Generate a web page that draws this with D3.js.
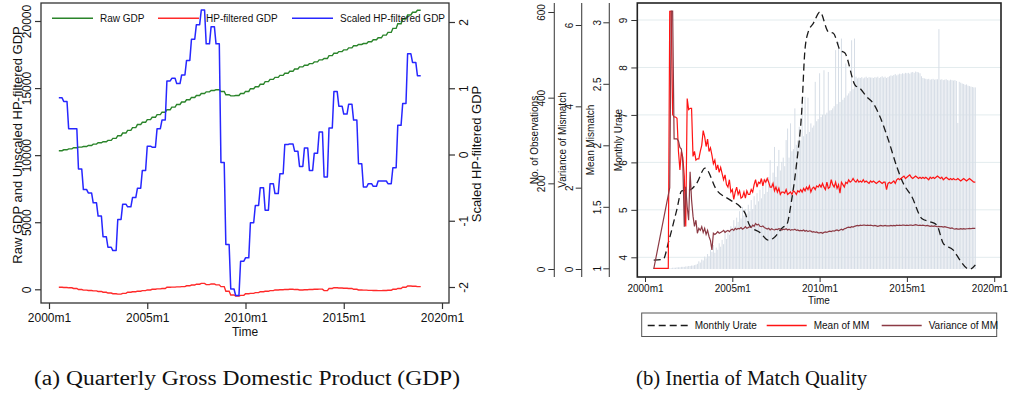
<!DOCTYPE html>
<html><head><meta charset="utf-8">
<script src="https://cdn.jsdelivr.net/npm/d3@7/dist/d3.min.js"></script>
<style>
body{margin:0;background:#fff}
svg{display:block}
text{font-family:"Liberation Sans",Arial,Helvetica,sans-serif;fill:#111}
</style>
</head><body>
<svg id="c" width="1009" height="395"></svg>
<script>
// ---------------- DATA: panel (a), quarterly, 2000q3 .. 2018q4 ----------------
const gdpFirstQuarter = 2000.5;
const rawGDP = [10330,10400,10470,10550,10600,10640,10720,10820,10920,11000,11100,11250,11450,11650,11850,12050,12280,12450,12650,12820,13020,13200,13380,13580,13780,13960,14130,14300,14450,14600,14720,14820,14880,14750,14500,14420,14450,14600,14750,14950,15100,15280,15480,15650,15800,15950,16100,16250,16420,16580,16700,16820,16950,17100,17200,17420,17600,17720,17850,18000,18150,18250,18320,18450,18600,18750,18950,19150,19450,19800,20150,20450,20650,20800];
const hpGDP = [150,130,110,60,-20,-60,-90,-120,-160,-220,-280,-330,-360,-300,-220,-180,-140,-100,-50,0,30,60,150,160,180,200,260,320,380,440,350,400,330,200,-150,-420,-500,-450,-330,-300,-250,-180,-150,-100,-50,-30,-10,0,-20,-50,-30,-10,0,10,-100,60,120,100,80,60,0,-50,-60,-80,-90,-100,-90,-70,0,60,150,250,230,200];
const scaledHP = [0.855,0.80,0.39,0.39,-0.22,-0.53,-0.58,-0.73,-0.93,-1.24,-1.40,-1.45,-0.98,-0.75,-0.79,-0.65,-0.51,-0.24,0.125,0.11,0.39,0.52,1.11,1.15,1.07,1.20,1.42,1.74,1.96,2.18,1.67,1.93,1.67,-0.12,-1.36,-2.03,-2.13,-1.61,-1.56,-1.03,-0.77,-0.50,-0.84,-0.44,-0.59,-0.29,0.15,0.16,0.05,-0.18,0.10,-0.24,0.02,0.34,-0.34,0.40,0.95,0.73,0.61,0.76,0.52,-0.14,-0.49,-0.44,-0.48,-0.40,-0.40,-0.44,-0.20,0.44,0.77,1.52,1.39,1.19];
const xTicksA = [2000,2005,2010,2015,2020];
const xTickLabels = ["2000m1","2005m1","2010m1","2015m1","2020m1"];
const yTicksA = [0,5000,10000,15000,20000];
const yTicksA2 = [-2,-1,0,1,2];
const legendA = ["Raw GDP","HP-filtered GDP","Scaled HP-filtered GDP"];

// ---------------- DATA: panel (b), monthly, 2000m7 .. 2018m12 ----------------
const monthFirst = 2000.5;
const meanMM = [
 1.0,null,null,null,null,null,
 null,null,null,null,1.0,3.09,3.09,2.25,2.23,2.23,2.22,1.95,
 1.80,1.95,1.90,1.75,1.34,2.38,2.29,2.30,2.30,1.91,1.95,1.88,
 1.89,1.89,1.95,2.00,2.12,2.07,1.99,2.05,1.95,1.98,1.92,1.85,
 1.88,1.80,1.84,1.78,1.82,1.77,1.72,1.76,1.68,1.66,1.72,1.62,
 1.64,1.56,1.62,1.66,1.60,1.63,1.57,1.58,1.62,1.57,1.63,1.60,
 1.60,1.64,1.62,1.68,1.72,1.66,1.70,1.69,1.73,1.67,1.72,1.70,
 1.73,1.70,1.66,1.66,1.69,1.63,1.66,1.62,1.65,1.60,1.62,1.62,
 1.61,1.64,1.60,1.61,1.62,1.60,1.63,1.62,1.60,1.63,1.62,1.64,
 1.62,1.65,1.63,1.66,1.64,1.67,1.62,1.65,1.66,1.64,1.67,1.66,
 1.68,1.66,1.69,1.66,1.64,1.70,1.65,1.66,1.72,1.68,1.66,1.70,
 1.65,1.68,1.61,1.70,1.68,1.66,1.70,1.69,1.72,1.70,1.71,1.73,
 1.71,1.70,1.72,1.70,1.71,1.70,1.72,1.70,1.71,1.70,1.69,1.71,
 1.70,1.71,1.70,1.69,1.70,1.71,1.70,1.69,1.70,1.70,1.64,1.69,
 1.70,1.69,1.70,1.71,1.69,1.72,1.73,1.72,1.73,1.74,1.75,1.73,
 1.74,1.75,1.76,1.74,1.73,1.74,1.75,1.74,1.73,1.74,1.73,1.74,
 1.73,1.74,1.73,1.72,1.74,1.73,1.74,1.73,1.74,1.75,1.74,1.73,
 1.74,1.72,1.73,1.74,1.73,1.72,1.73,1.72,1.73,1.72,1.72,1.73,
 1.72,1.71,1.72,1.73,1.72,1.71,1.72,1.73,1.72,1.71,1.70,1.70];
const varMM = [
 0,null,null,null,null,null,
 null,null,null,null,null,2.0,6.34,6.34,3.2,3.2,3.2,3.15,
 2.99,2.95,2.6,1.04,2.02,1.53,1.20,2.39,1.7,1.3,1.05,1.2,
 0.88,1.0,0.95,1.04,0.9,1.0,0.85,0.95,0.8,0.7,0.47,0.88,
 0.85,0.88,0.92,0.88,0.9,0.92,0.95,0.9,0.93,0.95,0.92,0.96,
 0.98,0.95,1.0,0.97,1.0,0.99,1.02,0.98,1.0,1.04,1.0,1.02,
 1.04,1.02,1.08,1.05,1.12,1.08,1.10,1.05,1.04,1.06,1.02,1.0,
 0.98,1.0,0.96,0.99,0.97,0.96,0.98,0.97,0.99,0.98,0.96,0.98,
 0.97,0.99,0.96,0.98,0.95,0.97,0.96,0.98,0.95,0.96,0.94,0.95,
 0.94,0.96,0.93,0.95,0.92,0.94,0.93,0.91,0.92,0.90,0.91,0.89,
 0.89,0.90,0.88,0.90,0.91,0.90,0.92,0.93,0.92,0.94,0.93,0.95,
 0.96,0.94,0.96,0.98,0.96,0.99,1.0,1.02,1.03,1.02,1.04,1.03,
 1.05,1.06,1.07,1.06,1.08,1.07,1.08,1.08,1.07,1.08,1.07,1.08,
 1.07,1.06,1.07,1.06,1.05,1.06,1.07,1.06,1.06,1.07,1.06,1.06,
 1.06,1.07,1.06,1.07,1.06,1.08,1.07,1.08,1.07,1.08,1.08,1.07,
 1.08,1.07,1.08,1.08,1.07,1.08,1.09,1.08,1.07,1.08,1.07,1.08,
 1.07,1.06,1.07,1.06,1.05,1.06,1.05,1.06,1.05,1.04,1.05,1.04,
 1.04,1.03,1.04,1.03,1.02,1.01,1.00,1.01,0.99,0.98,0.99,0.98,
 0.98,0.99,0.98,0.99,0.98,0.99,0.99,1.0,0.99,1.0,1.0,1.0];
const nObs = [
 0,0,0,0,0,0,
 0,0,0,0,0,2,2,3,3,3,4,4,
 4,5,5,5,6,6,7,7,8,8,9,10,
 12,18,15,22,20,29,25,35,30,45,40,56,
 38,50,45,60,52,68,58,91,70,85,80,100,
 95,114,100,120,110,135,118,145,125,140,130,150,
 135,161,140,170,150,177,158,185,165,200,175,210,
 180,215,254,200,225,285,215,240,278,230,250,260,
 240,301,328,260,340,275,280,375,290,300,332,300,
 394,310,402,315,400,320,340,330,335,437,345,350,
 457,355,360,464,360,365,460,370,371,375,380,511,
 385,530,390,538,395,400,480,405,410,415,534,420,
 538,449,445,447,446,448,445,447,449,446,448,447,
 447,446,448,447,449,446,448,450,447,449,446,448,
 450,452,451,453,455,452,454,456,455,457,456,458,
 457,458,456,459,460,458,461,460,459,457,450,446,
 445,444,443,444,442,443,444,442,443,443,560,442,
 443,441,442,443,441,440,442,441,440,441,439,341,
 437,435,433,432,430,431,428,427,426,425,424,424];
const urateTime = [2000.5,2001.05,2001.33,2001.82,2002.1,2002.58,2002.96,2003.44,2004.1,2004.87,2005.44,2005.73,2006.01,2006.59,2007.06,2007.35,2007.92,2008.11,2008.4,2008.69,2008.98,2009.16,2009.35,2009.64,2010.02,2010.5,2010.79,2011.17,2011.46,2012.03,2012.31,2012.7,2013.08,2013.46,2013.94,2014.42,2014.79,2015.28,2015.85,2016.32,2016.71,2017.09,2017.66,2018.04,2018.43,2018.61,2018.92];
const urateValue = [3.94,3.96,4.30,5.00,5.40,5.42,5.56,5.88,5.42,5.21,5.07,4.93,4.66,4.52,4.36,4.40,4.64,4.68,5.21,6.0,7.1,8.37,8.75,8.93,9.17,8.75,8.72,8.37,8.30,7.63,7.56,7.38,7.24,6.96,6.47,5.91,5.56,5.28,4.82,4.75,4.68,4.29,4.15,3.94,3.77,3.75,3.84];
const urateTicks = [4,5,6,7,8,9];
const meanTicks = [1,1.5,2,2.5,3];
const varTicks = [0,2,4,6];
const obsTicks = [0,200,400,600];
const legendB = ["Monthly Urate","Mean of MM","Variance of MM"];
const captions = ["(a) Quarterly Gross Domestic Product (GDP)","(b) Inertia of Match Quality"];

// ---------------- DRAW ----------------
const svg = d3.select("#c");
svg.append("rect").attr("width",1009).attr("height",395).attr("fill","#fff");

function quarterSteps(vals){
  const pts=[];
  vals.forEach((v,i)=>{const t=gdpFirstQuarter+i*0.25; for(let m=0;m<3;m++) pts.push([t+m/12,v]);});
  return pts;
}
function rotText(g, x, y, txt, size, anchor){
  return g.append("text").attr("transform",`translate(${x},${y}) rotate(-90)`)
    .attr("text-anchor",anchor||"middle").attr("font-size",size).text(txt);
}

// ===== Panel (a) =====
const A = {l:41,r:449,t:3,b:303};
const xA = d3.scaleLinear().domain([2000,2020]).range([49,442]);
const yA = d3.scaleLinear().domain([0,20000]).range([289.3,21]);
const yA2 = d3.scaleLinear().domain([-2,2]).range([287,22]);
const gA = svg.append("g");

gA.append("path").datum(quarterSteps(rawGDP)).attr("fill","none").attr("stroke","#2a842a").attr("stroke-width",1.4)
  .attr("d",d3.line().x(d=>xA(d[0])).y(d=>yA(d[1])));
gA.append("path").datum(quarterSteps(hpGDP)).attr("fill","none").attr("stroke","#ff2a2a").attr("stroke-width",1.4)
  .attr("d",d3.line().x(d=>xA(d[0])).y(d=>yA(d[1])));
gA.append("path").datum(quarterSteps(scaledHP)).attr("fill","none").attr("stroke","#2727ff").attr("stroke-width",1.5)
  .attr("stroke-linejoin","round")
  .attr("d",d3.line().x(d=>xA(d[0])).y(d=>yA2(d[1])));

gA.append("rect").attr("x",A.l).attr("y",A.t).attr("width",A.r-A.l).attr("height",A.b-A.t)
  .attr("fill","none").attr("stroke","#333").attr("stroke-width",1.3);

// bottom axis
const axB = gA.append("g").attr("transform",`translate(0,${A.b})`)
  .call(d3.axisBottom(xA).tickValues(xTicksA).tickSize(6).tickFormat((d,i)=>xTickLabels[i]));
axB.select(".domain").remove();
axB.selectAll("line").attr("stroke","#333").attr("stroke-width",1.2);
axB.selectAll("text").attr("font-size",12).attr("y",0).attr("dy",0).attr("transform","translate(0,18.5)").attr("fill","#111");
gA.append("text").attr("x",245).attr("y",335.5).attr("text-anchor","middle").attr("font-size",12).text("Time");

// left axis
const axL = gA.append("g").attr("transform",`translate(${A.l},0)`)
  .call(d3.axisLeft(yA).tickValues(yTicksA).tickSize(6).tickFormat(d3.format("d")));
axL.select(".domain").remove();
axL.selectAll("line").attr("stroke","#333").attr("stroke-width",1.2);
axL.selectAll("text").attr("font-size",12).attr("x",0).attr("dy",0).attr("text-anchor","middle")
  .attr("transform",`translate(${30.5-A.l},0) rotate(-90)`).attr("fill","#111");
rotText(gA,21.5,145,"Raw GDP and Unscaled HP-filtered GDP",13);

// right axis
const axR = gA.append("g").attr("transform",`translate(${A.r},0)`)
  .call(d3.axisRight(yA2).tickValues(yTicksA2).tickSize(6).tickFormat(d=>d<0?"-"+Math.abs(d):d));
axR.select(".domain").remove();
axR.selectAll("line").attr("stroke","#333").attr("stroke-width",1.2);
axR.selectAll("text").attr("font-size",12).attr("x",0).attr("dy",0).attr("text-anchor","middle")
  .attr("transform",`translate(${467.8-A.r},0) rotate(-90)`).attr("fill","#111");
rotText(gA,481,154,"Scaled HP-filtered GDP",13);

// legend (a)
const legColsA = ["#2a842a","#ff2a2a","#2727ff"];
const legXA = [52,158,292];
legendA.forEach((s,i)=>{
  gA.append("line").attr("x1",legXA[i]).attr("x2",legXA[i]+41).attr("y1",18.3).attr("y2",18.3)
    .attr("stroke",legColsA[i]).attr("stroke-width",1.4);
  gA.append("text").attr("x",legXA[i]+48).attr("y",22).attr("font-size",10).text(s);
});

// ===== Panel (b) =====
const B = {l:637.3,r:1001,t:3,b:277};
const xB = d3.scaleLinear().domain([2000,2020]).range([645,994.2]);
const yU = d3.scaleLinear().domain([4,9]).range([257.3,20]);
const yM = d3.scaleLinear().domain([1,3]).range([268.3,22.3]);
const yV = d3.scaleLinear().domain([0,6]).range([269,25]);
const yO = d3.scaleLinear().domain([0,600]).range([269,12]);
const gB = svg.append("g");
const tOf = i => monthFirst + i/12;

// grid
gB.selectAll(".grid").data(urateTicks).join("line").attr("x1",B.l).attr("x2",B.r)
  .attr("y1",d=>yU(d)).attr("y2",d=>yU(d)).attr("stroke","#e3ecee").attr("stroke-width",1);

// bars
gB.selectAll(".bar").data(nObs.map((v,i)=>({t:tOf(i),v}))).join("rect")
  .attr("x",d=>xB(d.t)-0.5).attr("width",1.0)
  .attr("y",d=>yO(d.v)).attr("height",d=>yO(0)-yO(d.v))
  .attr("fill","#d6dde6");

const seriesPts = arr => arr.map((v,i)=>[tOf(i),v]).filter(d=>d[1]!==null);
gB.append("path").datum(urateTime.map((t,i)=>[t,urateValue[i]])).attr("fill","none")
  .attr("stroke","#1a1a1a").attr("stroke-width",1.3).attr("stroke-dasharray","7,4")
  .attr("d",d3.line().curve(d3.curveMonotoneX).x(d=>xB(d[0])).y(d=>yU(d[1])));
gB.append("path").datum(seriesPts(meanMM)).attr("fill","none").attr("stroke","#ff1414").attr("stroke-width",1.2)
  .attr("d",d3.line().x(d=>xB(d[0])).y(d=>yM(d[1])));
gB.append("path").datum(seriesPts(varMM)).attr("fill","none").attr("stroke","#8c3a44").attr("stroke-width",1.2)
  .attr("d",d3.line().x(d=>xB(d[0])).y(d=>yV(d[1])));

gB.append("rect").attr("x",B.l).attr("y",B.t).attr("width",B.r-B.l).attr("height",B.b-B.t)
  .attr("fill","none").attr("stroke","#222").attr("stroke-width",1.6);

// bottom axis (b)
const axBb = gB.append("g").attr("transform",`translate(0,${B.b})`)
  .call(d3.axisBottom(xB).tickValues(xTicksA).tickSize(5).tickFormat((d,i)=>xTickLabels[i]));
axBb.select(".domain").remove();
axBb.selectAll("line").attr("stroke","#333");
axBb.selectAll("text").attr("font-size",10).attr("y",0).attr("dy",0).attr("transform","translate(0,15)").attr("fill","#111");
// keep the last label inside the picture edge
axBb.selectAll("text").filter((d,i)=>i===xTicksA.length-1)
  .attr("text-anchor","end").attr("transform",`translate(${1007.5-xB(2020)},15)`);
gB.append("text").attr("x",819).attr("y",304).attr("text-anchor","middle").attr("font-size",10).text("Time");

// vertical axes on the left
function leftAxis(scale, ticks, axisX, labelBase, title, titleBase, fmt, drawLine){
  const g = gB.append("g").attr("transform",`translate(${axisX},0)`)
    .call(d3.axisLeft(scale).tickValues(ticks).tickSize(6).tickFormat(fmt));
  g.select(".domain").remove();
  g.selectAll("line").attr("stroke","#333");
  g.selectAll("text").attr("font-size",10).attr("x",0).attr("dy",0).attr("text-anchor","middle")
    .attr("transform",`translate(${labelBase-axisX},0) rotate(-90)`).attr("fill","#111");
  if(drawLine) gB.append("line").attr("x1",axisX).attr("x2",axisX).attr("y1",B.t).attr("y2",B.b).attr("stroke","#444").attr("stroke-width",1.1);
  rotText(gB,titleBase,140,title,10);
}
leftAxis(yU,urateTicks,B.l,626.6,"Monthly Urate",621.5,d3.format("d"),false);
leftAxis(yM,meanTicks,609.3,600.6,"Mean Mismatch",594,d=>d,true);
leftAxis(yV,varTicks,581.7,572.6,"Variance of Mismatch",565.8,d3.format("d"),true);
leftAxis(yO,obsTicks,554.3,545.3,"No. of Observations",537.6,d3.format("d"),true);

// legend (b)
gB.append("rect").attr("x",641.7).attr("y",313).attr("width",355).attr("height",23.5)
  .attr("fill","#fff").attr("stroke","#555").attr("stroke-width",1);
const legB = [
  {x:647.7,col:"#1a1a1a",dash:"7,4"},
  {x:766.7,col:"#ff1414",dash:null},
  {x:881.7,col:"#8c3a44",dash:null}];
legendB.forEach((s,i)=>{
  gB.append("line").attr("x1",legB[i].x).attr("x2",legB[i].x+40).attr("y1",325.5).attr("y2",325.5)
    .attr("stroke",legB[i].col).attr("stroke-width",1.3).attr("stroke-dasharray",legB[i].dash);
  gB.append("text").attr("x",legB[i].x+47).attr("y",329).attr("font-size",10).text(s);
});

// captions
svg.append("text").attr("x",34).attr("y",385).attr("font-size",20)
  .style("font-family",'"Liberation Serif","Times New Roman",serif')
  .attr("textLength",426).attr("lengthAdjust","spacingAndGlyphs").text(captions[0]);
svg.append("text").attr("x",636).attr("y",385).attr("font-size",20)
  .style("font-family",'"Liberation Serif","Times New Roman",serif')
  .attr("textLength",231).attr("lengthAdjust","spacingAndGlyphs").text(captions[1]);
</script>
</body></html>
